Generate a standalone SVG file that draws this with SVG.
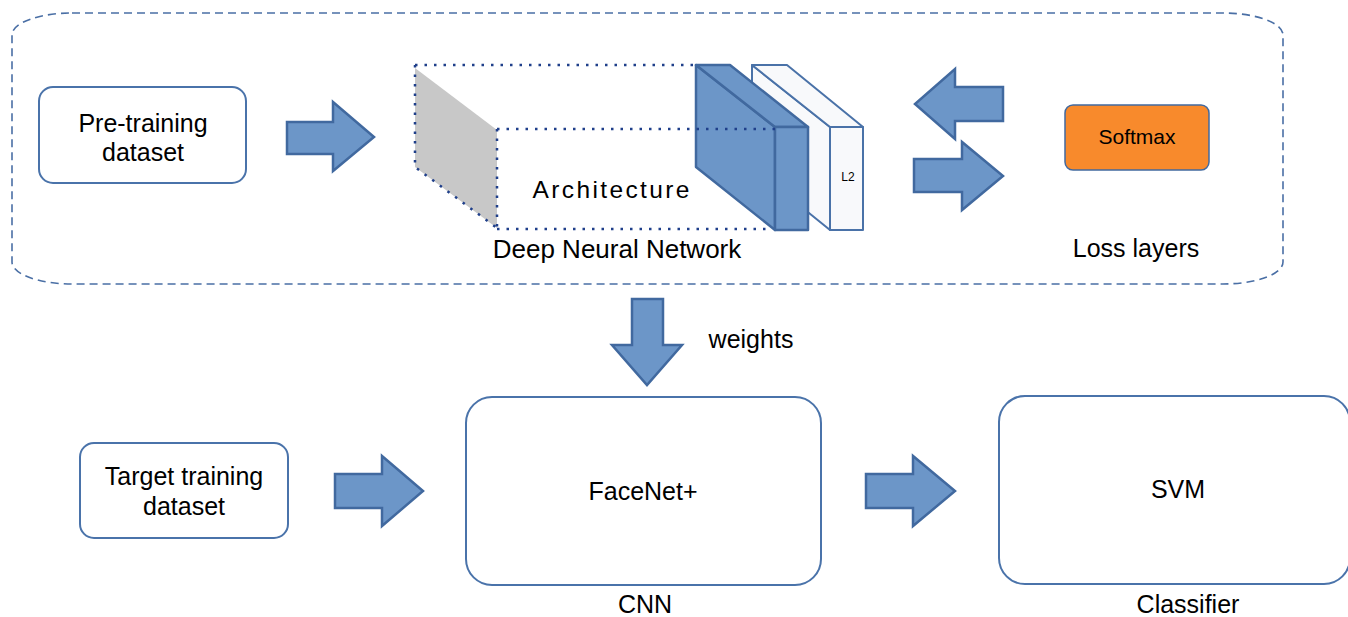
<svg xmlns="http://www.w3.org/2000/svg" width="1348" height="617" viewBox="0 0 1348 617">
<style>
.t{font-family:"Liberation Sans",Arial,sans-serif;fill:#000;text-anchor:middle}
.box{fill:#fff;stroke:#4A73AA;stroke-width:2}
.arrow{fill:#6C96C8;stroke:#41699F;stroke-width:2.5;stroke-linejoin:miter}
.dot{fill:none;stroke:#1F3F8A;stroke-width:2.5;stroke-dasharray:2.5 7}
.blue{fill:#6C96C8;stroke:#41699F;stroke-width:2.5;stroke-linejoin:round}
.white{fill:#F8F9FB;stroke:#4A72A8;stroke-width:2;stroke-linejoin:round}
</style>
<rect width="1348" height="617" fill="#fff"/>
<g id="container">
<rect x="12" y="13" width="1271" height="271" rx="60" ry="22" fill="none" stroke="#4A6FA5" stroke-width="1.6" stroke-dasharray="8 5"/>
</g>
<g id="pretraining">
<rect class="box" x="39" y="87" width="207" height="96" rx="14"/>
<text class="t" x="143" y="132" font-size="25">Pre-training</text>
<text class="t" x="143" y="161" font-size="25">dataset</text>
</g>
<g id="dnn">
<polygon points="415,68 497,130 497,228 415,167" fill="#C8C8C8"/>
<path class="dot" d="M415,65 H696 M415,65 V167 L497,228 M497,129 V228 M497,229 H772"/>
<polygon class="white" points="752,65 830,127 830,230 752,167"/>
<polygon class="white" points="752,65 787,65 863,127 830,127"/>
<rect class="white" x="830" y="127" width="33" height="103"/>
<text class="t" x="848" y="181" font-size="12">L2</text>
<polygon class="blue" points="696,65 775,127 775,230 696,167"/>
<polygon class="blue" points="696,65 730,65 808,127 775,127"/>
<rect class="blue" x="775" y="127" width="33" height="103"/>
<path class="dot" d="M497,129 H775" stroke="#1F3F6A"/>
<text class="t" x="611" y="198" font-size="24.5" textLength="157" lengthAdjust="spacing">Architecture</text>
<text class="t" x="617" y="258" font-size="26">Deep Neural Network</text>
</g>
<g id="loss">
<rect x="1065" y="105" width="144" height="65" rx="8" fill="#F88A2C" stroke="#41699F" stroke-width="1.5"/>
<text class="t" x="1137" y="144" font-size="21">Softmax</text>
<text class="t" x="1136" y="257" font-size="25">Loss layers</text>
</g>
<g id="target">
<rect class="box" x="80" y="443" width="208" height="95" rx="14"/>
<text class="t" x="184" y="485" font-size="25">Target training</text>
<text class="t" x="184" y="515" font-size="25">dataset</text>
</g>
<g id="facenet">
<rect class="box" x="466" y="397" width="355" height="188" rx="26"/>
<text class="t" x="643" y="500" font-size="25">FaceNet+</text>
<text class="t" x="645" y="613" font-size="25">CNN</text>
</g>
<g id="svm">
<rect class="box" x="999" y="396" width="351" height="188" rx="26"/>
<text class="t" x="1178" y="498" font-size="25">SVM</text>
<text class="t" x="1188" y="613" font-size="25">Classifier</text>
</g>
<g id="connectors">
<polygon class="arrow" points="287,122 333,122 333,102 374,137 333,171 333,154 287,154"/>
<polygon class="arrow" points="1003,87 955,87 955,69 915,104 955,139 955,121 1003,121"/>
<polygon class="arrow" points="914,159 962,159 962,142 1003,176 962,210 962,192 914,192"/>
<polygon class="arrow" points="632,299 663,299 663,345 682,345 647,385 612,345 632,345"/>
<text class="t" x="751" y="348" font-size="25">weights</text>
<polygon class="arrow" points="335,474 382,474 382,456 423,491 382,526 382,508 335,508"/>
<polygon class="arrow" points="866,474 913,474 913,456 955,491 913,526 913,508 866,508"/>
</g>
</svg>
